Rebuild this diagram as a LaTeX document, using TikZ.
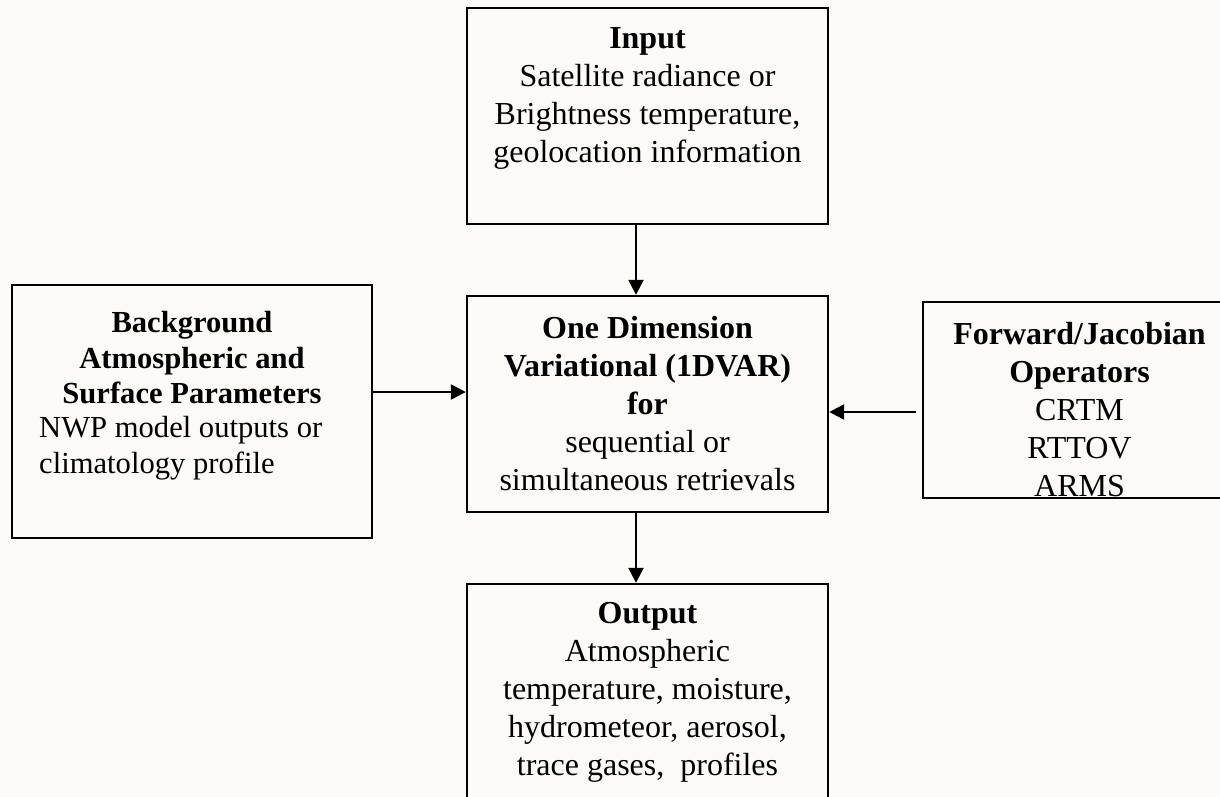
\documentclass[tikz,border=0pt]{standalone}
\usepackage{fontspec}
\setmainfont{Liberation Serif}
\usetikzlibrary{positioning,arrows.meta}
\definecolor{paper}{HTML}{FBFAF8}
\tikzstyle{blockbox} = [draw=black, line width=1.2pt, rectangle, inner sep=0pt]
\tikzstyle{boxtext} = [align=center, inner sep=0pt, font=\fontsize{16}{19}\selectfont]
\tikzstyle{flowarrow} = [line width=1.2pt, -{Triangle[length=7.5pt,width=7.5pt]}]

\begin{document}
\begin{tikzpicture}[x=0.5pt, y=-0.5pt]
\useasboundingbox (0,0) rectangle (1220,797);
\fill[paper] (0,0) rectangle (1220,797);
\clip (0,0) rectangle (1220,797);
% boxes
\node[blockbox, minimum width=180.5pt, minimum height=108pt] (input) at (647.5,116) {};
\node[blockbox, minimum width=180.5pt, minimum height=108pt] (onedvar) at (647.5,404) {};
\node[blockbox, minimum width=180pt, minimum height=126.5pt] (bkgd) at (192,411.5) {};
\node[blockbox, minimum width=156.5pt, minimum height=98pt] (fwdop) at (1079.5,400) {};
\node[blockbox, minimum width=180.5pt, minimum height=118pt] (output) at (647.5,702) {};
% texts
\node[boxtext, below=10pt of input.north] (inputtxt)
  {\textbf{Input}\\Satellite radiance or\\Brightness temperature,\\geolocation information};
\node[boxtext, below=10.5pt of onedvar.north] (onedvartxt)
  {\textbf{One Dimension}\\\textbf{Variational (1DVAR)}\\\textbf{for}\\sequential or\\simultaneous retrievals};
\node[boxtext, font=\fontsize{15.3}{17.8}\selectfont, below=13.5pt of bkgd.north] (bkgdtitle)
  {\textbf{Background}\\\textbf{Atmospheric and}\\\textbf{Surface Parameters}};
\node[boxtext, font=\fontsize{15.3}{17.8}\selectfont, align=left, anchor=north west] (bkgdbody)
  at ([xshift=14pt, yshift=-66pt]bkgd.north west) {NWP model outputs or\\climatology profile};
\node[boxtext, below=10.5pt of fwdop.north] (fwdoptxt)
  {\textbf{Forward/Jacobian}\\\textbf{Operators}\\CRTM\\RTTOV\\ARMS};
\node[boxtext, below=9.5pt of output.north] (outputtxt)
  {\textbf{Output}\\Atmospheric\\temperature, moisture,\\hydrometeor, aerosol,\\trace gases,\ \ profiles};
% arrows
\coordinate (fwdtail) at (916,412);
\draw[flowarrow] ([xshift=-5.75pt]input.south) -- ([xshift=-5.75pt]onedvar.north);
\draw[flowarrow] ([xshift=-5.75pt]onedvar.south) -- ([xshift=-5.75pt]output.north);
\draw[flowarrow] ([yshift=9.75pt]bkgd.east) -- ([yshift=9.75pt]bkgd.east -| onedvar.west);
\draw[flowarrow] (fwdtail) -- (fwdtail -| onedvar.east);
\end{tikzpicture}
\end{document}
